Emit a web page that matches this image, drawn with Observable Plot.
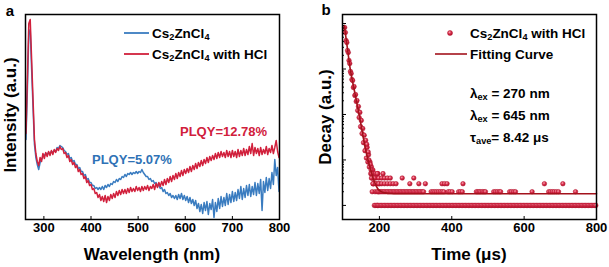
<!DOCTYPE html>
<html><head><meta charset="utf-8">
<script src="https://cdn.jsdelivr.net/npm/d3@7"></script>
<script src="https://cdn.jsdelivr.net/npm/@observablehq/plot@0.6"></script>
<style>
body{margin:0;background:#fff;}
#wrap{display:flex;width:609px;height:267px;}
</style></head><body><div id="wrap"></div>
<script>
// ---------- Panel a: emission spectra (arbitrary units) ----------
const wavelengths = d3.range(262, 800, 3); // 262..799 nm sampling grid
const redIntensity = [
86,140,196,200,160,120,80,66,58,54,
62,58,66,61,67,63,68,64,69,65,
70,67,71,69,73,70,71,66,67,62,
64,58,60,55,57,52,54,48,50,45,
46,41,43,37,39,34,35,30,31,26,
27,22,25,19,23,18,24,17,23,19,
25,21,26,22,28,24,29,25,30,26,
30,26,31,27,32,28,31,28,33,29,
32,28,33,29,33,30,34,29,33,31,
35,30,36,32,37,33,38,34,40,35,
41,37,43,38,44,40,46,41,47,43,
49,44,50,46,51,47,53,48,54,50,
56,51,57,53,59,54,60,56,62,57,
63,59,64,60,66,61,67,62,68,63,
67,62,69,63,68,62,69,63,68,62,
70,63,69,64,71,64,70,65,73,66,
76,64,72,66,71,64,72,65,70,66,
73,65,71,67,74,66,72,79,68,62];
const blueIntensity = [
80,130,185,190,150,112,75,62,55,50,
57,60,63,64,66,65,67,66,68,67,
69,68,72,71,74,73,72,69,68,65,
66,61,62,58,59,55,55,51,52,48,
48,44,45,40,41,37,37,34,34,31,
32,30,32,30,33,30,34,32,35,33,
36,35,38,37,40,38,41,40,43,42,
45,43,46,45,47,45,47,46,48,46,
48,47,50,47,45,43,43,40,41,38,
39,36,37,34,34,31,32,28,30,26,
27,24,26,22,24,21,24,20,25,21,
26,20,24,19,23,17,22,16,20,14,
19,11,16,8,15,6,17,9,18,5,
16,10,20,2,17,8,21,11,23,13,
22,14,26,15,25,17,28,18,27,19,
30,21,33,20,31,22,34,24,35,23,
33,25,37,24,36,26,40,9,38,27,
42,29,41,31,47,35,60,44,52,28];
const xTicksA = [300, 400, 500, 600, 700, 800];

// ---------- Panel b: decay (counts, log scale) ----------
const decayTimes  = [104,106,108,110,112,114,116,118,120,122,124,126,128,130,132,134,136,138,140,142,144,146,148,150,152,154,156,158,160,162,164,166,168,170,172,174,176,178,180,182,184,186,188,190,192,194,196,198,200,
                     165,169,171,175,177,179,181,183];
const decayCounts = [8170,6340,4230,3820,2550,2300,1540,1320,881,796,588,559,392,412,262,275,193,203,122,150,86,111,54,74,38,49,24,35,16,27,11,19,9,13,7,9,5,7,4,6,3,5,2,4,3,1,5,2,3,
                     22,15,10,8,6,5,4,3];
const floorTimes1 = [186,190,194,198,202,206,210,214,218,222,226,230,234,238,242,246,250,254,258,262,266,270,274,278,282,286,290,294,298,302,306,310,314,318,322,326,330,334,338,342,346,350,354,358,362,366,370,374,378,382,386,390,394,398,402,406,410,414,418,422,426,430,434,438,442,446,450,454,458,462,466,470,474,478,482,486,490,494,498,502,506,510,514,518,522,526,530,534,538,542,546,550,554,558,562,566,570,574,578,582,586,590,594,598,602,606,610,614,618,622,626,630,634,638,642,646,650,654,658,662,666,670,674,678,682,686,690,694,698,702,706,710,714,718,722,726,730,734,738,742,746,750,754,758,762,766,770,774,778,782,786,790,794,798];
const floorTimes2 = [180,194,198,202,206,210,214,218,222,226,230,234,238,242,246,250,254,258,262,266,270,274,278,282,286,290,294,298,302,306,310,314,318,322,343,348,353,358,363,368,373,378,390,395,401,419,424,429,468,472,476,480,485,489,493,516,521,526,531,535,560,565,571,576,622,668,673,678,683,689,695,742];
const floorTimes3 = [182,190,198,206,214,222,230,238,246,284,309,327,373,380,387,431,656,707];
const floorTimes4 = [178,186,198,206,214,222,230,263,295];
const floorTimes5 = [194,210];
const fitTimes  = [103,110,120,130,140,147,155,161,168,175,180,185,190,195,200,205,212,220,230,240,800];
const fitCounts = [9040,3540,927,363,143,74,32.8,17.9,10.5,6.5,4.68,3.54,2.82,2.36,2.14,2.01,1.91,1.86,1.83,1.81,1.81];
const xTicksB = [200, 400, 600, 800];
const yMajorB = [1, 10, 100, 1000, 10000];

const BLUE = "#3a7cc0", RED = "#d1203c", FIT = "#a3121c";
const FONT = '"Liberation Sans", Arial, Helvetica, sans-serif';

const specData = wavelengths.map((w, i) => ({w, red: redIntensity[i], blue: blueIntensity[i]}));
const decayData = decayTimes.map((t, i) => ({t, c: decayCounts[i]}))
  .concat(floorTimes1.map(t => ({t, c: 1})))
  .concat(floorTimes2.map(t => ({t, c: 2})))
  .concat(floorTimes3.map(t => ({t, c: 3})))
  .concat(floorTimes4.map(t => ({t, c: 4})))
  .concat(floorTimes5.map(t => ({t, c: 5})));
const fitData = fitTimes.map((t, i) => ({t, c: fitCounts[i]}));
const yMinorB = [];
for (const d of [1, 10, 100, 1000]) for (let k = 2; k <= 9; k++) yMinorB.push(k * d);

const baseStyle = {fontFamily: FONT, fontWeight: "bold", fontSize: "13px", color: "#000", background: "#fff", overflow: "visible"};

const plotA = Plot.plot({
  width: 300, height: 267, marginLeft: 25, marginRight: 21, marginTop: 14, marginBottom: 48,
  style: baseStyle,
  x: {domain: [261, 800]},
  y: {domain: [0, 205], axis: null},
  marks: [
    Plot.line(specData, {x: "w", y: "blue", stroke: BLUE, strokeWidth: 1.5}),
    Plot.line(specData, {x: "w", y: "red", stroke: RED, strokeWidth: 1.5}),
    Plot.axisX({ticks: xTicksA, tickSize: -3, tickFormat: () => "", label: null}),
    Plot.axisX({ticks: xTicksA, tickSize: 0, tickPadding: 3, fontSize: 13, fontWeight: "bold", label: null}),
    Plot.frame({stroke: "#000", strokeWidth: 1.5})
  ]
});

const plotB = Plot.plot({
  width: 309, height: 267, marginLeft: 42, marginRight: 13, marginTop: 14, marginBottom: 48,
  style: baseStyle,
  x: {domain: [98, 800]},
  y: {type: "log", domain: [0.49, 15800]},
  marks: [
    Plot.dot(decayData, {x: "t", y: "c", r: 2.3, fill: "url(#ballGrad)", stroke: "#b5142f", strokeWidth: 0.5}),
    Plot.line(fitData, {x: "t", y: "c", stroke: FIT, strokeWidth: 1.6, curve: "monotone-x"}),
    Plot.axisY({ticks: yMajorB, tickSize: -4, tickFormat: () => "", label: null}),
    Plot.axisY({ticks: yMinorB, tickSize: -2, tickFormat: () => "", label: null}),
    Plot.axisX({ticks: xTicksB, tickSize: -3, tickFormat: () => "", label: null}),
    Plot.axisX({ticks: xTicksB, tickSize: 0, tickPadding: 3, fontSize: 13, fontWeight: "bold", label: null}),
    Plot.frame({stroke: "#000", strokeWidth: 1.5})
  ]
});

document.getElementById("wrap").append(plotA, plotB);

// gradient for ball-like markers
const defs = d3.select(plotB).insert("defs", ":first-child");
const g = defs.append("radialGradient").attr("id", "ballGrad").attr("cx", "40%").attr("cy", "35%").attr("r", "60%");
g.append("stop").attr("offset", "0%").attr("stop-color", "#f6aab6");
g.append("stop").attr("offset", "50%").attr("stop-color", "#dc3350");
g.append("stop").attr("offset", "100%").attr("stop-color", "#b0122c");

// text helper supporting _{sub}
function addText(svg, x, y, str, opt = {}) {
  const size = opt.size || 13.5;
  const t = d3.select(svg).append("text")
    .attr("x", x).attr("y", y)
    .attr("fill", opt.fill || "#000")
    .attr("font-family", FONT).attr("font-weight", "bold")
    .attr("font-size", size)
    .attr("text-anchor", opt.anchor || "start")
    .attr("dominant-baseline", "central");
  if (opt.rotate) t.attr("transform", `rotate(${opt.rotate},${x},${y})`);
  const parts = str.split(/(_\{[^}]*\})/).filter(p => p);
  let shifted = false;
  for (const p of parts) {
    if (p.startsWith("_{")) {
      t.append("tspan").attr("font-size", size * 0.68).attr("dy", size * 0.28).text(p.slice(2, -1));
      shifted = true;
    } else {
      const s = t.append("tspan").text(p);
      if (shifted) { s.attr("dy", -size * 0.28); shifted = false; }
    }
  }
  return t;
}

// Panel a decorations
addText(plotA, 10, 10, "a", {size: 15, anchor: "middle"});
addText(plotA, 152, 254, "Wavelength (nm)", {size: 17, anchor: "middle"});
addText(plotA, 10, 115, "Intensity (a.u.)", {size: 17, anchor: "middle", rotate: -90});
d3.select(plotA).append("line").attr("x1", 124).attr("x2", 149).attr("y1", 33).attr("y2", 33).attr("stroke", BLUE).attr("stroke-width", 1.8);
d3.select(plotA).append("line").attr("x1", 124).attr("x2", 149).attr("y1", 54).attr("y2", 54).attr("stroke", RED).attr("stroke-width", 1.8);
addText(plotA, 152, 33, "Cs_{2}ZnCl_{4}", {size: 13.5});
addText(plotA, 152, 54, "Cs_{2}ZnCl_{4} with HCl", {size: 13.5});
addText(plotA, 180, 131, "PLQY=12.78%", {size: 13, fill: RED});
addText(plotA, 92, 159, "PLQY=5.07%", {size: 13, fill: "#2f72b6"});

// Panel b decorations
addText(plotB, 26, 9, "b", {size: 15, anchor: "middle"});
addText(plotB, 169, 254, "Time (\u03bcs)", {size: 17, anchor: "middle"});
addText(plotB, 25, 117, "Decay (a.u.)", {size: 17, anchor: "middle", rotate: -90});
d3.select(plotB).append("circle").attr("cx", 150).attr("cy", 33).attr("r", 2.5).attr("fill", "url(#ballGrad)").attr("stroke", "#b5142f").attr("stroke-width", 0.5);
d3.select(plotB).append("line").attr("x1", 135).attr("x2", 167).attr("y1", 54).attr("y2", 54).attr("stroke", FIT).attr("stroke-width", 1.6);
addText(plotB, 170, 33, "Cs_{2}ZnCl_{4} with HCl", {size: 13.5});
addText(plotB, 170, 54, "Fitting Curve", {size: 13.5});
addText(plotB, 170, 93, "\u03bb_{ex} = 270 nm", {size: 13.5});
addText(plotB, 170, 115, "\u03bb_{ex} = 645 nm", {size: 13.5});
addText(plotB, 170, 137, "\u03c4_{ave}= 8.42 \u03bcs", {size: 13.5});
</script>
</body></html>
